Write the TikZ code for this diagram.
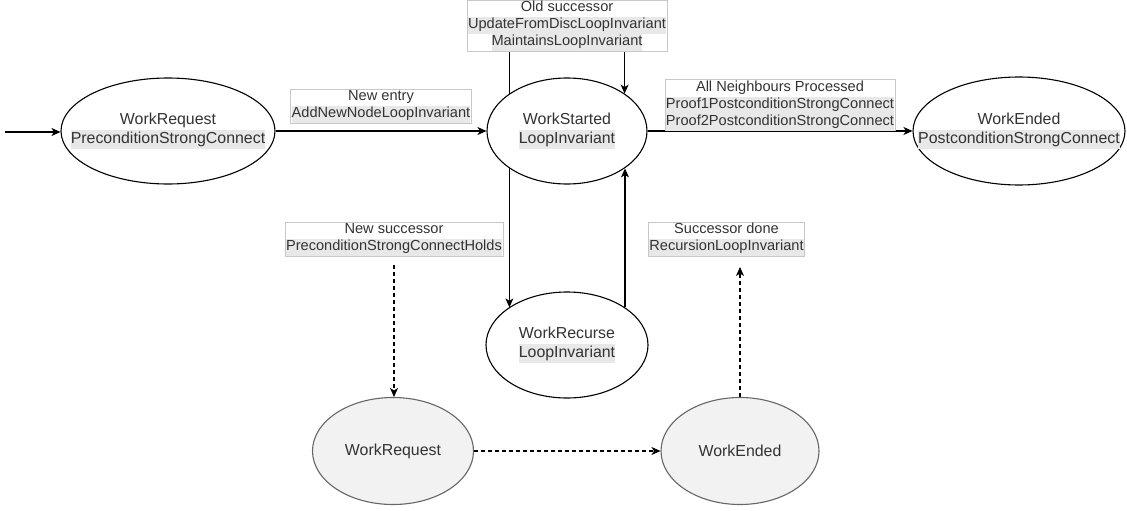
\documentclass[tikz,border=0pt]{standalone}
\usepackage{fontspec}
\setmainfont{Liberation Sans}
\usetikzlibrary{shapes.geometric,arrows.meta,calc}
\definecolor{txt}{HTML}{333333}
\definecolor{hl}{HTML}{E8E8E8}
\definecolor{lblborder}{HTML}{C8C8C8}
\definecolor{gfill}{HTML}{F2F2F2}
\definecolor{gline}{HTML}{666666}
\newcommand{\hlt}[1]{{\setlength{\fboxsep}{0pt}\colorbox{hl}{\strut #1}}}
\pgfdeclarelayer{bg}
\pgfsetlayers{bg,main}
\begin{document}
\begin{tikzpicture}[x=1pt,y=-1pt,
  state/.style={ellipse, draw=black, line width=1.1pt, fill=white, inner sep=0pt},
  gstate/.style={ellipse, draw=gline, line width=1.1pt, fill=gfill, inner sep=0pt},
  stext/.style={align=center, text=txt, font=\fontsize{15.9}{19}\selectfont, inner sep=0pt},
  lbl/.style={draw=lblborder, fill=white, line width=0.6pt, align=center, text=txt, font=\fontsize{14.6}{17}\selectfont, inner xsep=1pt, inner ysep=0pt},
  arr/.style={line width=1.1pt, -{Stealth[length=9pt,width=8pt,inset=2.5pt]}},
  darr/.style={arr, dash pattern=on 4pt off 3pt}]
\useasboundingbox (0,0) rectangle (1127,511);

% states
\node[state, minimum width=214pt, minimum height=106pt] (wrq) at (168,131) {};
\node[stext] (wrq-t) at (wrq) {WorkRequest\\\hlt{PreconditionStrongConnect}};
\node[state, minimum width=160pt, minimum height=106pt] (ws) at (567,131) {};
\node[stext] (ws-t) at (ws) {WorkStarted\\\hlt{LoopInvariant}};
\node[state, minimum width=212pt, minimum height=108pt] (we) at (1019,131) {};
\node[stext] (we-t) at (we) {WorkEnded\\\hlt{PostconditionStrongConnect}};
\node[state, minimum width=162pt, minimum height=106pt] (wr) at (567,345) {};
\node[stext] (wr-t) at (wr) {WorkRecurse\\\hlt{LoopInvariant}};
\node[gstate, minimum width=161pt, minimum height=107pt] (gwrq) at (393,451) {};
\node[stext] (gwrq-t) at (gwrq) {WorkRequest};
\node[gstate, minimum width=158pt, minimum height=107pt] (gwe) at (740,451) {};
\node[stext] (gwe-t) at (gwe) {WorkEnded};

% labels
\node[lbl] (entry) at (381,106) {\strut New entry\\\hlt{AddNewNodeLoopInvariant}};
\node[lbl] (old) at (567,25.5) {\strut Old successor\\\hlt{UpdateFromDiscLoopInvariant}\\\hlt{MaintainsLoopInvariant}};
\node[lbl] (alln) at (780,105) {\strut All Neighbours Processed\\\hlt{Proof1PostconditionStrongConnect}\\\hlt{Proof2PostconditionStrongConnect}};
\node[lbl] (nsucc) at (394,239) {\strut New successor\\\hlt{PreconditionStrongConnectHolds}};
\node[lbl] (sdone) at (726.5,239) {\strut Successor done\\\hlt{RecursionLoopInvariant}};

% free ends
\coordinate (start) at (5,132);
\coordinate (ns-start) at (394,265);
\coordinate (sd-end) at (740,267);

\begin{pgfonlayer}{bg}
\draw[arr] (start) -- (start -| wrq.west);
\draw[arr] (wrq.east) -- (ws.west);
\draw[arr] (ws.east) -- (we.west);
\draw[arr] (ws.147) |- (old.south) -| (ws.33);
\draw[arr] (ws.213) -- (ws.213 |- wr.147);
\draw[arr] (wr.33) -- (wr.33 |- ws.327);
\draw[darr] (ns-start) -- (ns-start |- gwrq.north);
\draw[darr] (gwe.north -| sd-end) -- (sd-end);
\draw[darr] (gwrq.east) -- (gwe.west);
\end{pgfonlayer}
\end{tikzpicture}
\end{document}
